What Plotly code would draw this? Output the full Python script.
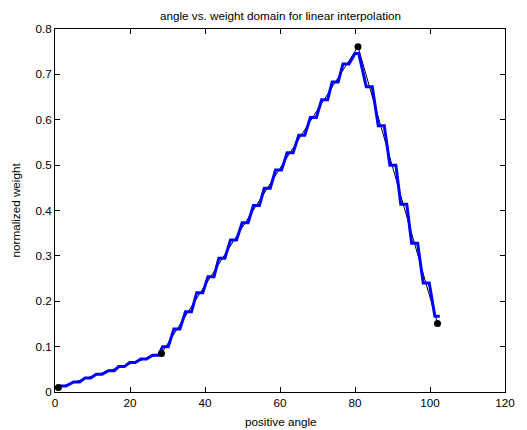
import plotly.graph_objects as go

# Key points (black dots / thin black line)
key_angle = [0.9, 28.4, 80.8, 102.0]
key_weight = [0.010, 0.085, 0.761, 0.151]

# Quantised (staircase) weight: each flat step's start, end and level
step_start = [1.0, 5.0, 8.0, 11.0, 14.2, 17.0, 19.9, 22.9, 26.0,
              28.7, 31.7, 34.8, 37.8, 40.8, 43.7, 46.8, 49.9, 52.9, 55.8,
              58.8, 61.9, 65.0, 68.1, 71.1, 73.9, 76.8, 80.0,
              83.0, 86.2, 89.3, 92.2, 95.1, 98.2, 101.3]
step_end = [2.9, 6.6, 9.5, 12.6, 15.8, 18.5, 21.4, 24.4, 27.6,
            30.2, 33.3, 36.4, 39.4, 42.4, 45.3, 48.4, 51.5, 54.5, 57.4,
            60.4, 63.5, 66.6, 69.7, 72.7, 75.5, 78.4, 81.0,
            84.6, 87.8, 90.9, 93.8, 96.7, 99.8, 102.6]
step_level = [0.013, 0.022, 0.031, 0.039, 0.047, 0.056, 0.065, 0.073, 0.081,
              0.100, 0.139, 0.177, 0.219, 0.254, 0.295, 0.335, 0.373, 0.411, 0.449,
              0.489, 0.527, 0.566, 0.605, 0.644, 0.683, 0.723, 0.746,
              0.673, 0.587, 0.500, 0.414, 0.328, 0.240, 0.167]

x_ticks = [0, 20, 40, 60, 80, 100, 120]
y_ticks = [0, 0.1, 0.2, 0.3, 0.4, 0.5, 0.6, 0.7, 0.8]
y_tick_text = ["0", "0.1", "0.2", "0.3", "0.4", "0.5", "0.6", "0.7", "0.8"]

stair_x, stair_y = [], []
for s, e, v in zip(step_start, step_end, step_level):
    stair_x += [s, e]
    stair_y += [v, v]

FONT = "Liberation Sans, Arial, Helvetica, sans-serif"
FS = 11.7

fig = go.Figure()
fig.add_trace(go.Scatter(x=key_angle, y=key_weight, mode="lines",
                         line=dict(color="black", width=1), showlegend=False))
fig.add_trace(go.Scatter(x=stair_x, y=stair_y, mode="lines",
                         line=dict(color="#0000ff", width=3), showlegend=False))
fig.add_trace(go.Scatter(x=key_angle, y=key_weight, mode="markers",
                         marker=dict(color="black", size=7), showlegend=False))

axis_common = dict(showgrid=False, zeroline=False, showline=True, linecolor="black",
                   linewidth=1, mirror="ticks", ticks="inside", ticklen=5,
                   tickcolor="black", tickfont=dict(family=FONT, size=FS, color="black"))

fig.update_xaxes(range=[0, 120], tickvals=x_ticks, **axis_common)
fig.update_yaxes(range=[0, 0.8], tickvals=y_ticks, ticktext=y_tick_text, **axis_common)

fig.update_layout(
    width=527, height=430,
    margin=dict(l=55, r=15, t=29, b=38),
    plot_bgcolor="white", paper_bgcolor="white",
    font=dict(family=FONT, size=FS, color="black"),
    annotations=[
        dict(text="angle vs. weight domain for linear interpolation", xref="paper", yref="paper",
             x=0.5, y=1, yshift=5, xanchor="center", yanchor="bottom", showarrow=False,
             font=dict(family=FONT, size=FS, color="black")),
        dict(text="positive angle", xref="paper", yref="paper",
             x=0.5, y=0, yshift=-21, xanchor="center", yanchor="top", showarrow=False,
             font=dict(family=FONT, size=FS, color="black")),
        dict(text="normalized weight", xref="paper", yref="paper",
             x=0, y=0.5, xshift=-40, xanchor="center", yanchor="middle", textangle=-90,
             showarrow=False, font=dict(family=FONT, size=FS, color="black")),
    ],
)

fig.write_html("out.html")
